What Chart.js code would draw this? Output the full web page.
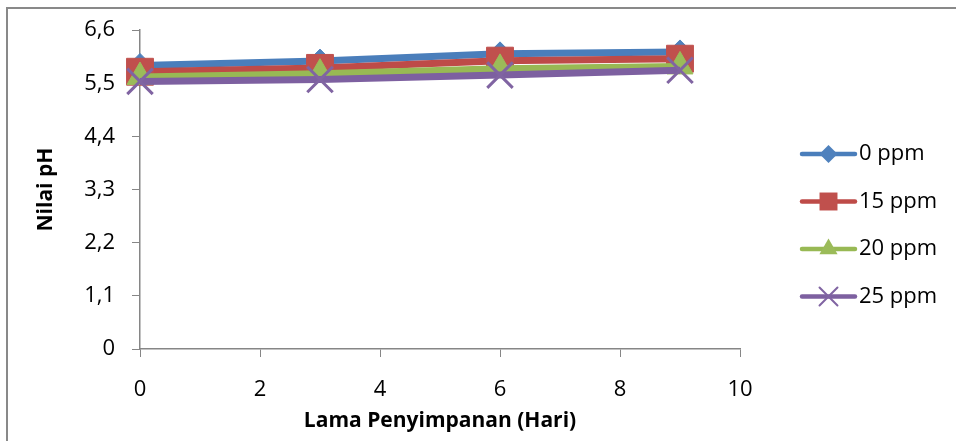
<!DOCTYPE html>
<html>
<head>
<meta charset="utf-8">
<script src="https://cdn.jsdelivr.net/npm/chart.js@4/dist/chart.umd.min.js"></script>
<style>
    body{ margin:0; background:#fff; }
    #box{ width:956px; height:441px; }
</style>
</head>
<body>
<div id="box"><canvas id="grafik" width="956" height="441"></canvas></div>
<script>
// data
var hari = [0, 3, 6, 9];
var ph_0ppm = [5.87, 5.96, 6.11, 6.15];
var ph_15ppm = [5.74, 5.82, 5.97, 6.01];
var ph_20ppm = [5.63, 5.70, 5.80, 5.85];
var ph_25ppm = [5.54, 5.58, 5.67, 5.77];
var series_names = ['0 ppm', '15 ppm', '20 ppm', '25 ppm'];
var y_tick_values = [0, 1.1, 2.2, 3.3, 4.4, 5.5, 6.6];
var y_tick_labels = ['0', '1,1', '2,2', '3,3', '4,4', '5,5', '6,6'];
var x_tick_labels = ['0', '2', '4', '6', '8', '10'];

var font_name = "'Open Sans', 'DejaVu Sans', sans-serif";
var axis_color = '#868686';

function fnc_points(values){
    var out = [];
    for(var i in hari){
        out.push({x: hari[i], y: values[i]});
    }
    return out;
}

function fnc_serie(name, values, line, fill, style, radius, order){
    return {
        label: name,
        data: fnc_points(values),
        borderColor: line,
        backgroundColor: fill,
        borderWidth: 7,
        pointStyle: style,
        pointRadius: radius,
        pointHoverRadius: radius,
        pointBackgroundColor: fill,
        pointBorderColor: fill,
        pointBorderWidth: style == 'crossRot' ? 3 : 1,
        tension: 0,
        clip: false,
        order: order
    };
}

// legend marks, same look as the Excel ones
function fnc_marker(ctx, style, x, y, r, color){
    ctx.save();
    ctx.fillStyle = color;
    ctx.strokeStyle = color;
    ctx.beginPath();
    if(style == 'rectRot'){
        ctx.moveTo(x - r, y); ctx.lineTo(x, y - r); ctx.lineTo(x + r, y); ctx.lineTo(x, y + r);
        ctx.closePath(); ctx.fill();
    }else if(style == 'rect'){
        var s = r * Math.SQRT1_2;
        ctx.rect(x - s, y - s, 2 * s, 2 * s); ctx.fill();
    }else if(style == 'triangle'){
        ctx.moveTo(x, y - r);
        ctx.lineTo(x + r * 0.866, y + r * 0.5);
        ctx.lineTo(x - r * 0.866, y + r * 0.5);
        ctx.closePath(); ctx.fill();
    }else{
        var c = r * Math.SQRT1_2;
        ctx.lineWidth = 2;
        ctx.moveTo(x - c, y - c); ctx.lineTo(x + c, y + c);
        ctx.moveTo(x + c, y - c); ctx.lineTo(x - c, y + c);
        ctx.stroke();
    }
    ctx.restore();
}

var plugin_frame = {
    id: 'frame',
    beforeDraw: function(chart){
        var ctx = chart.ctx;
        ctx.save();
        ctx.fillStyle = '#898989';
        ctx.fillRect(6, 7, 950, 2);
        ctx.fillRect(6, 7, 2, 434);
        ctx.restore();
    },
    afterDraw: function(chart){
        var ctx = chart.ctx;
        var legend_y = [154, 201.5, 249, 296.5];
        var legend_r = [9, 12.7, 10.5, 12.7];
        var sets = chart.data.datasets;
        ctx.save();
        for(var i = 0; i < sets.length; i++){
            var y = legend_y[i];
            ctx.strokeStyle = sets[i].borderColor;
            ctx.lineWidth = 4.5;
            ctx.lineCap = 'round';
            ctx.beginPath();
            ctx.moveTo(802, y); ctx.lineTo(855, y);
            ctx.stroke();
            fnc_marker(ctx, sets[i].pointStyle, 828.5, y, legend_r[i], sets[i].pointBackgroundColor);
            ctx.fillStyle = '#000';
            ctx.font = "22px " + font_name;
            ctx.textAlign = 'left';
            ctx.textBaseline = 'middle';
            ctx.fillText(sets[i].label, 859, y);
        }
        ctx.restore();
    }
};

var datasets = [
    fnc_serie(series_names[0], ph_0ppm, '#4a7ebb', '#4f81bd', 'rectRot', 12, 3),
    fnc_serie(series_names[1], ph_15ppm, '#be4b48', '#c0504d', 'rect', 19, 2),
    fnc_serie(series_names[2], ph_20ppm, '#98b954', '#9bbb59', 'triangle', 15, 1),
    fnc_serie(series_names[3], ph_25ppm, '#7d60a0', '#8064a2', 'crossRot', 18, 0)
];

var configuration = {
    type: 'line',
    data: {datasets: datasets},
    plugins: [plugin_frame],
    options: {
        responsive: false,
        animation: false,
        layout: {padding: {left: 0, top: 29, right: 216, bottom: 0}},
        plugins: {
            legend: {display: false},
            tooltip: {enabled: false}
        },
        scales: {
            x: {
                type: 'linear',
                min: 0,
                max: 10,
                afterFit: function(scale){ scale.height = 92; },
                afterBuildTicks: function(scale){
                    scale.ticks = x_tick_labels.map(function(t){ return {value: Number(t)}; });
                },
                ticks: {
                    color: '#000',
                    padding: 20,
                    maxRotation: 0,
                    font: {family: font_name, size: 22},
                    callback: function(value, index){ return x_tick_labels[index]; }
                },
                grid: {display: true, drawOnChartArea: false, drawTicks: true, tickLength: 8, color: axis_color},
                border: {display: true, color: axis_color, width: 1.5},
                title: {
                    display: true,
                    text: 'Lama Penyimpanan (Hari)',
                    color: '#000',
                    font: {family: font_name, size: 21, weight: 'bold'},
                    padding: {top: 0, bottom: 7}
                }
            },
            y: {
                type: 'linear',
                min: 0,
                max: 6.6,
                afterFit: function(scale){ scale.width = 140; },
                afterBuildTicks: function(scale){
                    scale.ticks = y_tick_values.map(function(v){ return {value: v}; });
                },
                ticks: {
                    color: '#000',
                    padding: 17,
                    font: {family: font_name, size: 22},
                    callback: function(value, index){ return y_tick_labels[index]; }
                },
                grid: {display: true, drawOnChartArea: false, drawTicks: true, tickLength: 8, color: axis_color},
                border: {display: true, color: axis_color, width: 1.5},
                title: {
                    display: true,
                    text: 'Nilai pH',
                    color: '#000',
                    font: {family: font_name, size: 21, weight: 'bold'},
                    padding: {top: 33, bottom: 0}
                }
            }
        }
    }
};

new Chart(document.getElementById('grafik'), configuration);
</script>
</body>
</html>
